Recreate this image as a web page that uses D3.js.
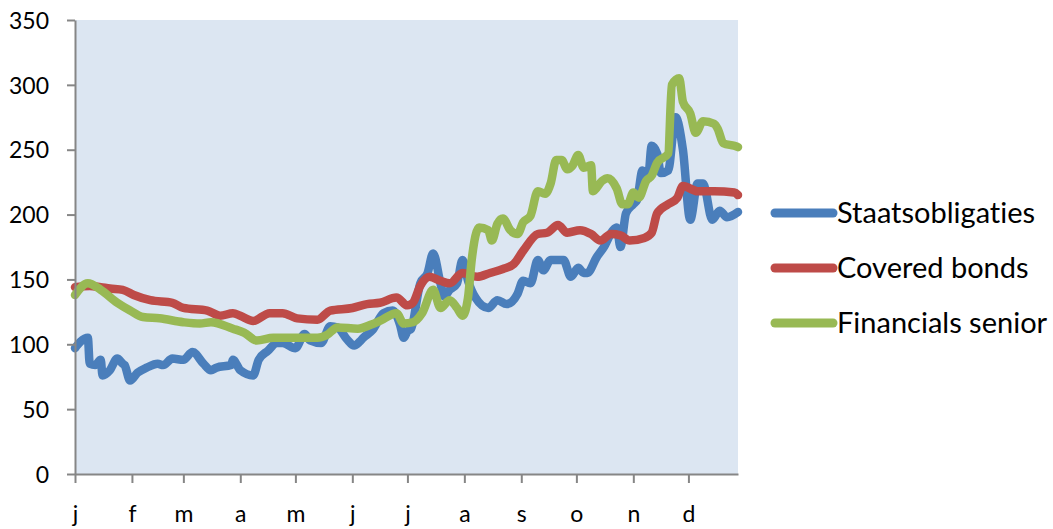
<!DOCTYPE html>
<html>
<head>
<meta charset="utf-8">
<script src="https://cdn.jsdelivr.net/npm/d3@7"></script>
<style>
  html, body { margin: 0; padding: 0; background: #ffffff; }
  svg { display: block; }
  text { font-family: Lato, "Open Sans", sans-serif; fill: #000; font-variant-ligatures: none; }
</style>
</head>
<body>
<svg id="chart" width="1053" height="529"></svg>
<script>
// Day offsets from 1 January and spread values (bp) per series
const staatDays = [0, 3, 7, 8, 11, 14, 15, 19, 23, 26, 27, 30, 34, 39, 45, 48, 53, 59, 64, 70, 74, 77, 85, 86, 90, 97, 100, 105, 110, 113, 120, 125, 128, 134, 139, 143, 148, 152, 155, 157, 162, 168, 173, 177, 179, 181, 183, 188, 192, 195, 199, 201, 204, 208, 211, 214, 218, 225, 230, 235, 241, 244, 248, 252, 255, 259, 266, 270, 274, 277, 279, 284, 288, 293, 295, 297, 300, 304, 306, 309, 312, 314, 317, 319, 323, 327, 331, 335, 339, 342, 347, 351, 355, 361];
const staatValues = [97, 102, 105, 85, 84, 88, 76, 80, 89, 85, 84, 72, 78, 82, 85, 84, 89, 88, 94, 85, 80, 82, 84, 88, 80, 76, 88, 95, 101, 101, 97, 108, 103, 101, 114, 113, 104, 99, 102, 105, 111, 124, 126, 115, 105, 110, 112, 147, 155, 170, 147, 137, 142, 147, 165, 149, 136, 128, 134, 131, 139, 149, 147, 165, 157, 165, 165, 152, 159, 155, 155, 167, 175, 188, 190, 175, 201, 208, 211, 234, 228, 253, 247, 232, 234, 275, 250, 196, 224, 224, 196, 203, 198, 202];

const coveredDays = [0, 8, 14, 19, 26, 32, 41, 53, 59, 72, 79, 86, 90, 97, 106, 113, 121, 132, 139, 151, 159, 166, 175, 181, 184, 188, 193, 199, 204, 211, 219, 226, 233, 239, 244, 252, 257, 263, 268, 275, 281, 286, 292, 297, 302, 310, 314, 317, 323, 328, 331, 339, 348, 359, 361];
const coveredValues = [144, 145, 144, 143, 142, 138, 134, 132, 128, 126, 122, 124, 122, 118, 124, 124, 120, 119, 126, 128, 131, 132, 136, 130, 132, 145, 152, 149, 147, 155, 152, 155, 158, 162, 172, 185, 186, 192, 186, 188, 185, 180, 185, 184, 180, 182, 186, 201, 208, 213, 222, 218, 218, 217, 215];

const financialsDays = [0, 7, 14, 23, 30, 37, 46, 59, 68, 74, 86, 92, 99, 108, 119, 132, 137, 143, 154, 161, 166, 175, 179, 184, 189, 195, 199, 204, 208, 211, 214, 216, 220, 225, 227, 230, 233, 237, 241, 244, 248, 252, 256, 259, 262, 265, 268, 271, 274, 277, 281, 282, 287, 290, 295, 298, 301, 304, 307, 311, 314, 317, 323, 325, 329, 331, 335, 338, 342, 348, 350, 353, 359, 361];
const financialsValues = [138, 147, 142, 132, 126, 121, 120, 117, 116, 117, 112, 109, 103, 105, 105, 105, 107, 113, 112, 115, 118, 124, 116, 117, 124, 142, 128, 134, 128, 122, 136, 165, 190, 188, 180, 193, 197, 188, 185, 194, 199, 218, 216, 224, 242, 242, 235, 238, 246, 236, 238, 218, 226, 228, 220, 208, 208, 217, 213, 226, 230, 240, 247, 300, 305, 287, 278, 263, 272, 270, 266, 255, 253, 252];

const seriesNames = ["Staatsobligaties", "Covered bonds", "Financials senior"];
const seriesColors = ["#4A7EBB", "#BE4B48", "#98B954"];
const monthLabels = ["j", "f", "m", "a", "m", "j", "j", "a", "s", "o", "n", "d"];
const yTicks = [0, 50, 100, 150, 200, 250, 300, 350];

const yearStart = new Date(2011, 0, 1);
const toDate = d => d3.timeDay.offset(yearStart, d);

const series = [
  { name: seriesNames[0], color: seriesColors[0], days: staatDays, values: staatValues },
  { name: seriesNames[1], color: seriesColors[1], days: coveredDays, values: coveredValues },
  { name: seriesNames[2], color: seriesColors[2], days: financialsDays, values: financialsValues }
].map(s => ({ ...s, points: s.days.map((d, i) => ({ date: toDate(d), value: s.values[i] })) }));

const plot = { left: 75, right: 738, top: 20, bottom: 474 };

const x = d3.scaleTime()
  .domain([yearStart, toDate(361)])
  .range([plot.left, plot.right]);

const y = d3.scaleLinear()
  .domain([0, 350])
  .range([plot.bottom, plot.top]);

const svg = d3.select("#chart");

// plot area background
svg.append("rect")
  .attr("x", plot.left)
  .attr("y", plot.top)
  .attr("width", plot.right - plot.left)
  .attr("height", plot.bottom - plot.top)
  .attr("fill", "#DCE6F2");

// series lines
const line = d3.line()
  .x(p => x(p.date))
  .y(p => y(p.value))
  .curve(d3.curveMonotoneX);

svg.append("g")
  .selectAll("path")
  .data(series)
  .join("path")
  .attr("d", s => line(s.points))
  .attr("fill", "none")
  .attr("stroke", s => s.color)
  .attr("stroke-width", 8.5)
  .attr("stroke-linejoin", "round")
  .attr("stroke-linecap", "round");

const axisFont = "Lato, 'Open Sans', sans-serif";

// y axis
const yAxis = svg.append("g")
  .attr("transform", `translate(${plot.left},0)`)
  .call(d3.axisLeft(y).tickValues(yTicks).tickSize(8).tickSizeOuter(0));
yAxis.select(".domain").attr("stroke", "#868686").attr("stroke-width", 2);
yAxis.selectAll(".tick line").attr("stroke", "#868686").attr("stroke-width", 2);
yAxis.selectAll(".tick text")
  .attr("x", -26)
  .attr("dy", "0.36em")
  .style("font-size", "23px")
  .style("font-family", axisFont)
  .attr("fill", "#000");

// x axis: month starts
const monthTicks = d3.timeMonth.range(yearStart, toDate(362));
const xAxis = svg.append("g")
  .attr("transform", `translate(0,${plot.bottom})`)
  .call(d3.axisBottom(x)
    .tickValues(monthTicks)
    .tickSize(9)
    .tickSizeOuter(0)
    .tickFormat(d => monthLabels[d.getMonth()]));
xAxis.select(".domain").attr("stroke", "#868686").attr("stroke-width", 2);
xAxis.selectAll(".tick line").attr("stroke", "#868686").attr("stroke-width", 2);
xAxis.selectAll(".tick text")
  .attr("y", 48)
  .attr("dy", "0")
  .style("font-size", "23px")
  .style("font-family", axisFont)
  .attr("fill", "#000");

// legend
const legend = svg.append("g")
  .selectAll("g")
  .data(series)
  .join("g")
  .attr("transform", (s, i) => `translate(775,${213 + i * 55})`);

legend.append("line")
  .attr("x1", 0)
  .attr("x2", 58)
  .attr("stroke", s => s.color)
  .attr("stroke-width", 9)
  .attr("stroke-linecap", "round");

legend.append("text")
  .attr("x", 62)
  .attr("dy", "0.36em")
  .style("font-size", "29px")
  .text(s => s.name);
</script>
</body>
</html>
